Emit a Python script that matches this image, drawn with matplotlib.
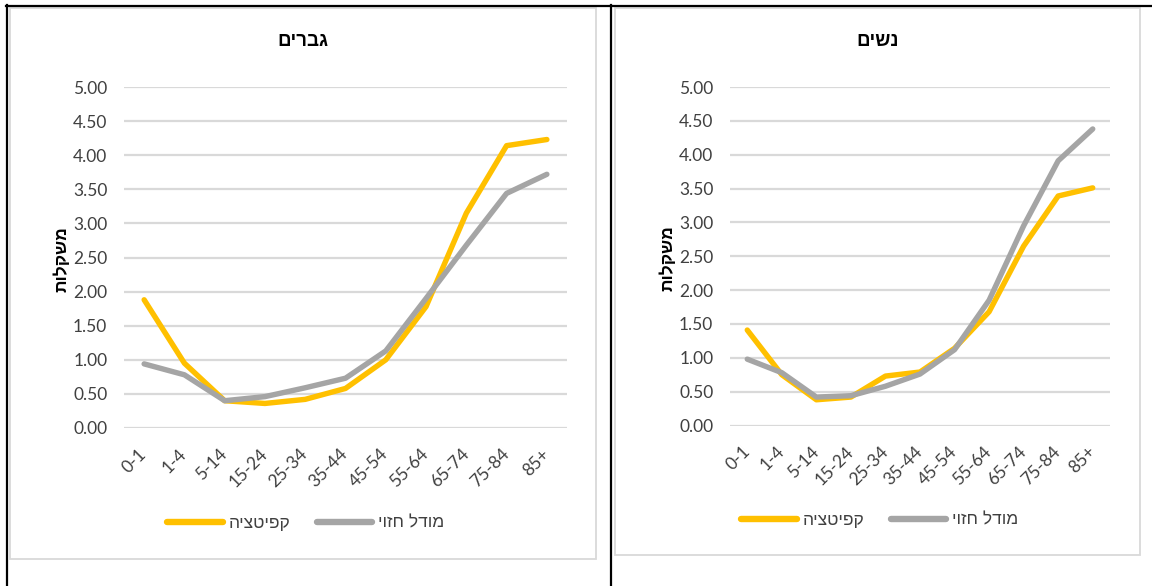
import matplotlib.pyplot as plt
from matplotlib.lines import Line2D
from matplotlib.patches import Rectangle

W, H = 1152, 586

age_groups = ["0-1", "1-4", "5-14", "15-24", "25-34", "35-44",
              "45-54", "55-64", "65-74", "75-84", "85+"]

men_capitation = [1.88, 0.95, 0.40, 0.36, 0.42, 0.58, 1.00, 1.78, 3.15, 4.14, 4.23]
men_model = [0.94, 0.78, 0.40, 0.46, 0.59, 0.73, 1.13, 1.90, 2.68, 3.44, 3.72]

women_capitation = [1.41, 0.75, 0.38, 0.42, 0.73, 0.79, 1.14, 1.68, 2.65, 3.39, 3.51]
women_model = [0.98, 0.78, 0.42, 0.44, 0.58, 0.76, 1.12, 1.85, 2.95, 3.91, 4.38]

y_ticks = [0, 0.5, 1, 1.5, 2, 2.5, 3, 3.5, 4, 4.5, 5]

YELLOW = "#FFC000"
GREY = "#A5A5A5"
GRID = "#D9D9D9"
TEXT = "#404040"
HEB = "Liberation Sans"


def heb(s):
    # matplotlib has no bidi support, so feed Hebrew in visual order
    return s[::-1]


def fx(x):
    return x / W


def fy(y):
    return 1 - y / H


def draw_panel(fig, box, frame, title, cap, model, legend_center):
    left, top, right, bottom = box
    ax = fig.add_axes([fx(left), fy(bottom), (right - left) / W, (bottom - top) / H])
    x = range(len(age_groups))
    ax.plot(x, cap, color=YELLOW, lw=3.9, solid_joinstyle="round",
            solid_capstyle="round", label=heb("קפיטציה"), clip_on=False, zorder=3)
    ax.plot(x, model, color=GREY, lw=3.9, solid_joinstyle="round",
            solid_capstyle="round", label=heb("מודל חזוי"), clip_on=False, zorder=3)
    ax.set_xlim(-0.5, len(age_groups) - 0.5)
    ax.set_ylim(0, 5)
    ax.set_yticks(y_ticks)
    ax.set_yticklabels([f"{v:.2f}" for v in y_ticks])
    ax.set_xticks(list(x))
    ax.set_xticklabels(age_groups, rotation=45, ha="right", va="center",
                       rotation_mode="anchor")
    ax.tick_params(length=0, labelsize=12.5, labelcolor=TEXT)
    ax.tick_params(axis="y", pad=12)
    ax.tick_params(axis="x", pad=17)
    for lab in ax.get_xticklabels() + ax.get_yticklabels():
        lab.set_family("Lato")
    ax.grid(axis="y", color=GRID, lw=1.6)
    ax.set_axisbelow(True)
    for s in ax.spines.values():
        s.set_visible(False)
    ax.patch.set_alpha(0)

    fl, ft, fr, fb = frame
    fig.add_artist(Rectangle((fx(fl), fy(fb)), (fr - fl) / W, (fb - ft) / H,
                             transform=fig.transFigure, fill=False,
                             edgecolor=GRID, lw=1.3))
    fig.text(fx((fl + fr) / 2), fy(42), heb(title), ha="center", va="center",
             family=HEB, fontsize=13.5, fontweight="bold", color="black")
    fig.text(fx(left - 63), fy((top + bottom) / 2 + 2), heb("משקלות"), rotation=90,
             ha="center", va="center", family=HEB, fontsize=12.5,
             fontweight="bold", color="black")

    leg = ax.legend(loc="center", bbox_to_anchor=(fx(legend_center[0]), fy(legend_center[1])),
                    bbox_transform=fig.transFigure, ncol=2, frameon=False,
                    prop={"family": HEB, "size": 12.5}, handlelength=3.2,
                    handletextpad=0.35, columnspacing=1.5)
    for t in leg.get_texts():
        t.set_color(TEXT)
    for h in leg.get_lines():
        h.set_linewidth(4.6)
    return ax


fig = plt.figure(figsize=(W / 100, H / 100), dpi=100)
fig.patch.set_facecolor("white")

draw_panel(fig, (124, 87, 567, 428), (10, 8, 596, 559), "גברים",
           men_capitation, men_model, (306, 523))
draw_panel(fig, (730, 87, 1110, 425.5), (615, 8, 1140, 555), "נשים",
           women_capitation, women_model, (880, 520))

# black table borders around the two panels
for (x0, y0, x1, y1) in [(6, 5.5, 1152, 5.5), (7, 5, 7, 586), (611, 5, 611, 586)]:
    fig.add_artist(Line2D([fx(x0), fx(x1)], [fy(y0), fy(y1)],
                          transform=fig.transFigure, color="black", lw=1.6))

fig.savefig("out.png", dpi=100)
